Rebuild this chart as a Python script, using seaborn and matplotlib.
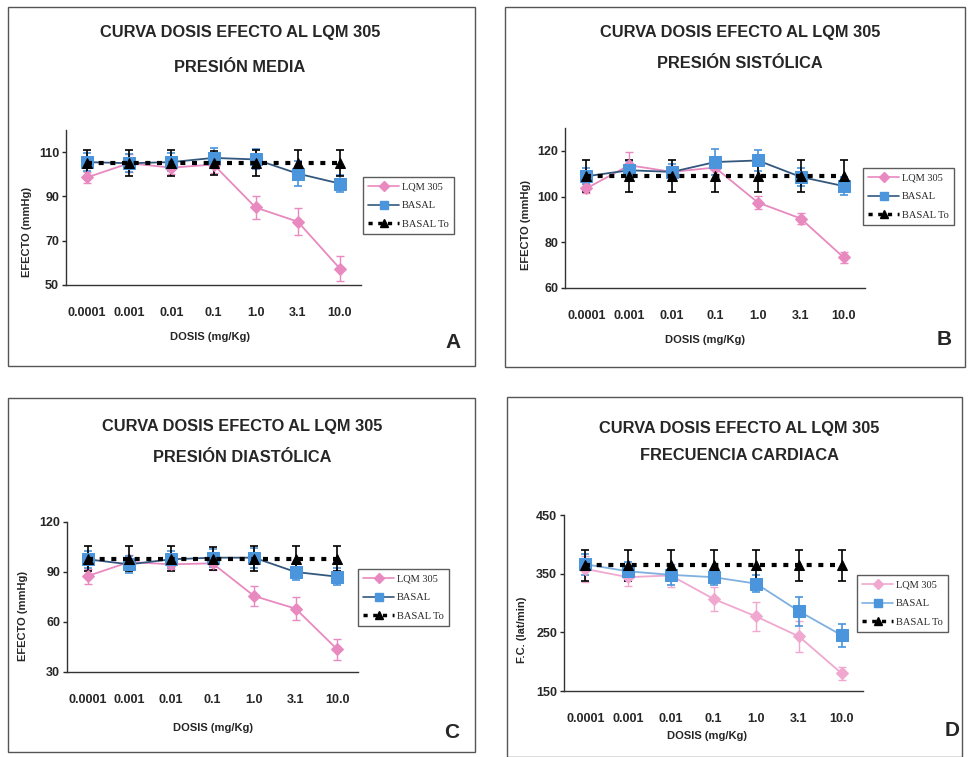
import numpy as np
import pandas as pd
import matplotlib
matplotlib.use("Agg")
import matplotlib.pyplot as plt
import seaborn as sns
from matplotlib.lines import Line2D

sns.set_theme(style="white")
plt.rcParams['font.family'] = ['Liberation Sans', 'DejaVu Sans']

doses = ["0.0001", "0.001", "0.01", "0.1", "1.0", "3.1", "10.0"]
series_names = ["LQM 305", "BASAL", "BASAL To"]

# Panel A: presión media
a_lqm = [98.6, 105.0, 103.0, 104.4, 85.0, 78.6, 57.4]
a_lqm_err = [2.5, 4.0, 3.0, 4.0, 5.0, 6.0, 5.5]
a_bas = [105.5, 105.0, 105.5, 107.4, 106.7, 100.3, 95.8]
a_bas_err = [4.0, 4.0, 4.0, 4.5, 4.5, 5.5, 4.0]
a_to = [105.0, 105.0, 105.0, 105.0, 105.0, 105.0, 105.0]
a_to_err = [6.0, 6.0, 6.0, 5.5, 6.0, 6.0, 6.0]

# Panel B: presión sistólica
b_lqm = [103.6, 113.7, 110.8, 112.7, 97.4, 90.4, 73.4]
b_lqm_err = [2.0, 6.0, 2.5, 3.0, 3.0, 2.5, 2.5]
b_bas = [108.9, 111.5, 110.8, 115.1, 115.8, 108.6, 104.6]
b_bas_err = [3.5, 4.0, 3.5, 5.5, 4.5, 4.0, 4.0]
b_to = [109.0, 109.0, 109.0, 109.0, 109.0, 109.0, 109.0]
b_to_err = [7.0, 7.0, 7.0, 7.0, 7.0, 7.0, 7.0]

# Panel C: presión diastólica
c_lqm = [87.6, 96.0, 94.6, 95.2, 75.6, 68.0, 43.6]
c_lqm_err = [4.5, 4.0, 3.0, 4.0, 6.0, 7.0, 6.5]
c_bas = [97.6, 94.6, 97.6, 98.6, 98.6, 90.0, 87.2]
c_bas_err = [5.0, 5.0, 5.0, 5.5, 6.0, 5.0, 5.0]
c_to = [98.0, 98.0, 98.0, 98.0, 98.0, 98.0, 98.0]
c_to_err = [7.5, 7.5, 7.5, 7.0, 7.5, 7.5, 7.5]

# Panel D: frecuencia cardiaca
d_lqm = [358.0, 344.0, 347.0, 307.0, 277.0, 243.0, 180.0]
d_lqm_err = [22.0, 15.0, 20.0, 21.0, 24.0, 27.0, 11.0]
d_bas = [366.0, 354.0, 348.0, 344.0, 333.0, 286.0, 245.0]
d_bas_err = [18.0, 16.0, 17.0, 14.0, 15.0, 25.0, 20.0]
d_to = [364.0, 364.0, 364.0, 364.0, 364.0, 364.0, 364.0]
d_to_err = [26.0, 26.0, 26.0, 26.0, 26.0, 26.0, 26.0]

subtitles = ["PRESIÓN MEDIA", "PRESIÓN SISTÓLICA", "PRESIÓN DIASTÓLICA", "FRECUENCIA CARDIACA"]
main_title = "CURVA DOSIS EFECTO AL LQM 305"
ylabels = ["EFECTO (mmHg)", "EFECTO (mmHg)", "EFECTO (mmHg)", "F.C. (lat/min)"]
xlabel = "DOSIS (mg/Kg)"
letters = ["A", "B", "C", "D"]
yticks_list = [[50, 70, 90, 110], [60, 80, 100, 120], [30, 60, 90, 120], [150, 250, 350, 450]]
ylims = [(50, 120), (60, 130), (30, 120), (150, 450)]

panels = [
    (a_lqm, a_lqm_err, a_bas, a_bas_err, a_to, a_to_err),
    (b_lqm, b_lqm_err, b_bas, b_bas_err, b_to, b_to_err),
    (c_lqm, c_lqm_err, c_bas, c_bas_err, c_to, c_to_err),
    (d_lqm, d_lqm_err, d_bas, d_bas_err, d_to, d_to_err),
]

W, H = 974, 757
fig = plt.figure(figsize=(W / 100, H / 100), dpi=100)

def fx(px):
    return px / W

def fy(py):
    return 1 - py / H

# pixel boxes: (left, top, right, bottom)
axes_px = [(66, 130, 361, 285), (565, 128, 865, 288), (67, 522, 358, 672), (564, 515, 863, 691)]
frames_px = [(8, 7, 475, 366), (505, 7, 965, 367), (8, 398, 475, 752), (507, 397, 962, 757)]
title_pos = [((240, 33), (240, 68)), ((740, 33), (740, 63)), ((242, 427), (242, 458)), ((739, 428), (739, 455))]
xlabel_pos = [(210, 337), (705, 340), (213, 728), (707, 736)]
ylabel_pos = [(27, 232), (526, 225), (23, 616), (522, 630)]
letter_pos = [(453, 342), (944, 340), (452, 732), (952, 730)]
legend_px = [(363, 177, 455, 243), (863, 168, 955, 226), (358, 569, 457, 635), (857, 575, 952, 638)]

pink = "#e889c0"
blue_m = "#4a95dc"
blue_l = "#34577e"

for i, (lq, lqe, ba, bae, to, toe) in enumerate(panels):
    l, t, r, b = frames_px[i]
    fig.patches.append(plt.Rectangle((fx(l), fy(b)), fx(r - l), (b - t) / H,
                                     transform=fig.transFigure, fill=False,
                                     edgecolor="#555555", linewidth=1.0))
    l, t, r, b = axes_px[i]
    ax = fig.add_axes([fx(l), fy(b), fx(r - l), (b - t) / H])
    df = pd.DataFrame({
        "dosis": doses * 3,
        "valor": list(lq) + list(ba) + list(to),
        "serie": [series_names[0]] * 7 + [series_names[1]] * 7 + [series_names[2]] * 7,
    })
    xpos = np.arange(len(doses))
    light = (i == 3)
    lq_col = "#f0a8d0" if light else pink
    bl_line = "#7fb0e0" if light else blue_l
    # error bars
    ax.errorbar(xpos, lq, yerr=lqe, fmt="none", ecolor=lq_col, capsize=3, elinewidth=1.0, capthick=1.0, zorder=2)
    ax.errorbar(xpos, ba, yerr=bae, fmt="none", ecolor=blue_m, capsize=3, elinewidth=1.2, capthick=1.2, zorder=3)
    ax.errorbar(xpos, to, yerr=toe, fmt="none", ecolor="black", capsize=3, elinewidth=1.2, capthick=1.2, zorder=4)
    sns.lineplot(data=df[df.serie == series_names[0]], x="dosis", y="valor", ax=ax, color=lq_col,
                 marker="D", markersize=6, markeredgecolor=lq_col, linewidth=1.3, sort=False, legend=False, zorder=5)
    sns.lineplot(data=df[df.serie == series_names[1]], x="dosis", y="valor", ax=ax, color=bl_line,
                 marker="s", markersize=8, markerfacecolor=blue_m, markeredgecolor=blue_m, linewidth=1.3,
                 sort=False, legend=False, zorder=6)
    sns.lineplot(data=df[df.serie == series_names[2]], x="dosis", y="valor", ax=ax, color="black",
                 marker="^", markersize=7, markeredgecolor="black", linewidth=3.0, linestyle=(0, (1.2, 1.6)),
                 sort=False, legend=False, zorder=7)
    ax.set_xlim(-0.5, len(doses) - 0.5)
    ax.set_ylim(*ylims[i])
    ax.set_yticks(yticks_list[i])
    ax.set_xticks(xpos)
    ax.set_xticklabels(doses, fontsize=9, fontweight="bold")
    ax.set_yticklabels([str(v) for v in yticks_list[i]], fontsize=9, fontweight="bold")
    ax.tick_params(axis="x", length=0, pad=16)
    ax.tick_params(axis="y", length=3, direction="out", left=True, pad=2, width=1)
    ax.set_xlabel("")
    ax.set_ylabel("")
    ax.set_facecolor("white")
    for sp in ["top", "right"]:
        ax.spines[sp].set_visible(False)
    for sp in ["left", "bottom"]:
        ax.spines[sp].set_color("#333333")
        ax.spines[sp].set_linewidth(1.0)

    # titles and labels
    (tx1, ty1), (tx2, ty2) = title_pos[i]
    fig.text(fx(tx1), fy(ty1), main_title, ha="center", va="center", fontsize=11.8, fontweight="bold")
    fig.text(fx(tx2), fy(ty2), subtitles[i], ha="center", va="center", fontsize=11.8, fontweight="bold")
    fig.text(fx(xlabel_pos[i][0]), fy(xlabel_pos[i][1]), xlabel, ha="center", va="center", fontsize=8, fontweight="bold")
    fig.text(fx(ylabel_pos[i][0]), fy(ylabel_pos[i][1]), ylabels[i], ha="center", va="center", rotation=90,
             fontsize=8, fontweight="bold")
    fig.text(fx(letter_pos[i][0]), fy(letter_pos[i][1]), letters[i], ha="center", va="center", fontsize=15,
             fontweight="bold")

    # legend
    l, t, r, b = legend_px[i]
    handles = [
        Line2D([], [], color=lq_col, marker="D", markersize=5, linewidth=1.2),
        Line2D([], [], color=bl_line, marker="s", markersize=6, markerfacecolor=blue_m, markeredgecolor=blue_m, linewidth=1.2),
        Line2D([], [], color="black", marker="^", markersize=6, linewidth=2.5, linestyle=(0, (1.2, 1.6))),
    ]
    leg = fig.legend(handles, series_names, loc="upper left", bbox_to_anchor=(fx(l), fy(t)),
                     bbox_transform=fig.transFigure, frameon=True, fancybox=False,
                     handlelength=3.0, borderpad=0.5, labelspacing=0.9, handletextpad=0.2, borderaxespad=0,
                     prop={"family": ["Liberation Serif", "DejaVu Serif"], "size": 7.5})
    leg.get_frame().set_edgecolor("#333333")
    leg.get_frame().set_linewidth(1.0)

fig.savefig("out.png", dpi=100, facecolor="white")
